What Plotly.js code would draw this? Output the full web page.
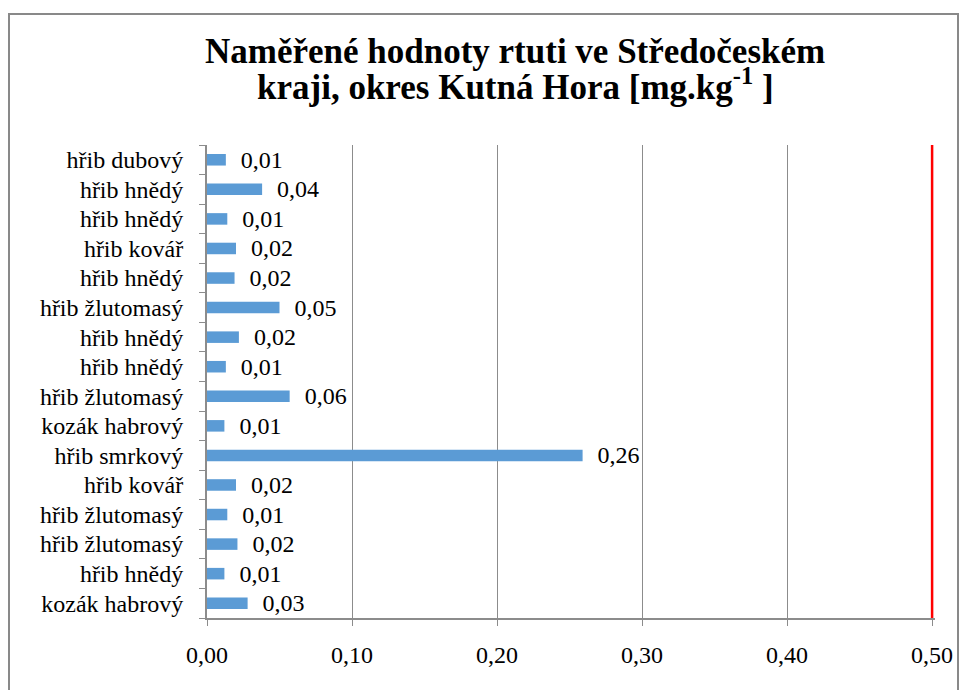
<!DOCTYPE html>
<html>
<head>
<meta charset="utf-8">
<script src="https://cdn.plot.ly/plotly-3.0.1.min.js"></script>
<style>html,body{margin:0;padding:0;background:#fff;}#chart{width:968px;height:690px;}</style>
</head>
<body>
<div id="chart"></div>
<script>
// Categories listed top to bottom
const categories = ["hřib dubový","hřib hnědý","hřib hnědý","hřib kovář","hřib hnědý","hřib žlutomasý","hřib hnědý","hřib hnědý","hřib žlutomasý","kozák habrový","hřib smrkový","hřib kovář","hřib žlutomasý","hřib žlutomasý","hřib hnědý","kozák habrový"];
const values = [0.013,0.038,0.014,0.020,0.019,0.050,0.022,0.013,0.057,0.012,0.259,0.020,0.014,0.021,0.012,0.028];
const limitValue = 0.5;
const xTicks = [0, 0.1, 0.2, 0.3, 0.4, 0.5];
const titleLines = ["Naměřené hodnoty rtuti ve Středočeském", "kraji, okres Kutná Hora [mg.kg<sup>-1</sup> ]"];

const positions = categories.map((c, i) => i);
const serif = "Liberation Serif";
const axisGray = "#8C8C8C";

// plot area pixel geometry (for placing paper-referenced decorations)
const PL = 207, PR = 935, PT = 145, PB = 618;
const px2x = px => (px - PL) / (PR - PL);
const px2y = py => (PB - py) / (PB - PT);

const trace = {
  type: "bar",
  orientation: "h",
  x: values,
  y: positions,
  marker: {color: "#5B9BD5"},
  width: 0.39,
  texttemplate: "  %{x:.2f}",
  textposition: "outside",
  constraintext: "none",
  cliponaxis: false,
  textfont: {family: serif, size: 24, color: "#000"},
  hoverinfo: "skip"
};

const layout = {
  width: 968, height: 690,
  separators: ", ",
  font: {family: serif},
  paper_bgcolor: "#fff", plot_bgcolor: "#fff",
  margin: {l: PL, r: 968 - PR, t: PT, b: 690 - PB, pad: 0},
  showlegend: false,
  annotations: titleLines.map((t, i) => ({
    text: "<b>" + t + "</b>",
    xref: "paper", yref: "paper",
    x: px2x(515), xanchor: "center",
    y: px2y(73 + 36 * i), yanchor: "bottom",
    showarrow: false,
    font: {family: serif, size: 35, color: "#000"}
  })),
  xaxis: {
    range: [0, limitValue * 1.004],
    tickvals: xTicks,
    tickformat: ".2f",
    showgrid: true, gridcolor: axisGray, gridwidth: 1,
    zeroline: false,
    showline: true, linecolor: axisGray, linewidth: 2,
    ticks: "outside", ticklen: 6, tickcolor: axisGray, tickwidth: 1,
    ticklabelstandoff: 8,
    tickfont: {family: serif, size: 24, color: "#000"},
    fixedrange: true
  },
  yaxis: {
    range: [categories.length - 0.5, -0.5],
    tickvals: positions,
    ticktext: categories,
    ticks: "",
    showgrid: false, zeroline: false,
    showline: true, linecolor: axisGray, linewidth: 2,
    ticklabelstandoff: 17,
    tickfont: {family: serif, size: 24, color: "#000"},
    minor: {tick0: 0.5, dtick: 1, ticks: "outside", ticklen: 6, tickcolor: axisGray, tickwidth: 1, showgrid: false},
    fixedrange: true
  },
  shapes: [
    {type: "line", xref: "x", yref: "paper", x0: limitValue, x1: limitValue, y0: 0, y1: 1,
     line: {color: "#FF0000", width: 2.5}},
    {type: "rect", xref: "paper", yref: "paper",
     x0: px2x(9), x1: px2x(958), y0: px2y(720), y1: px2y(14),
     line: {color: "#898989", width: 2}, fillcolor: "rgba(0,0,0,0)", layer: "above"}
  ]
};

Plotly.newPlot("chart", [trace], layout, {displayModeBar: false, staticPlot: true});
</script>
</body>
</html>
